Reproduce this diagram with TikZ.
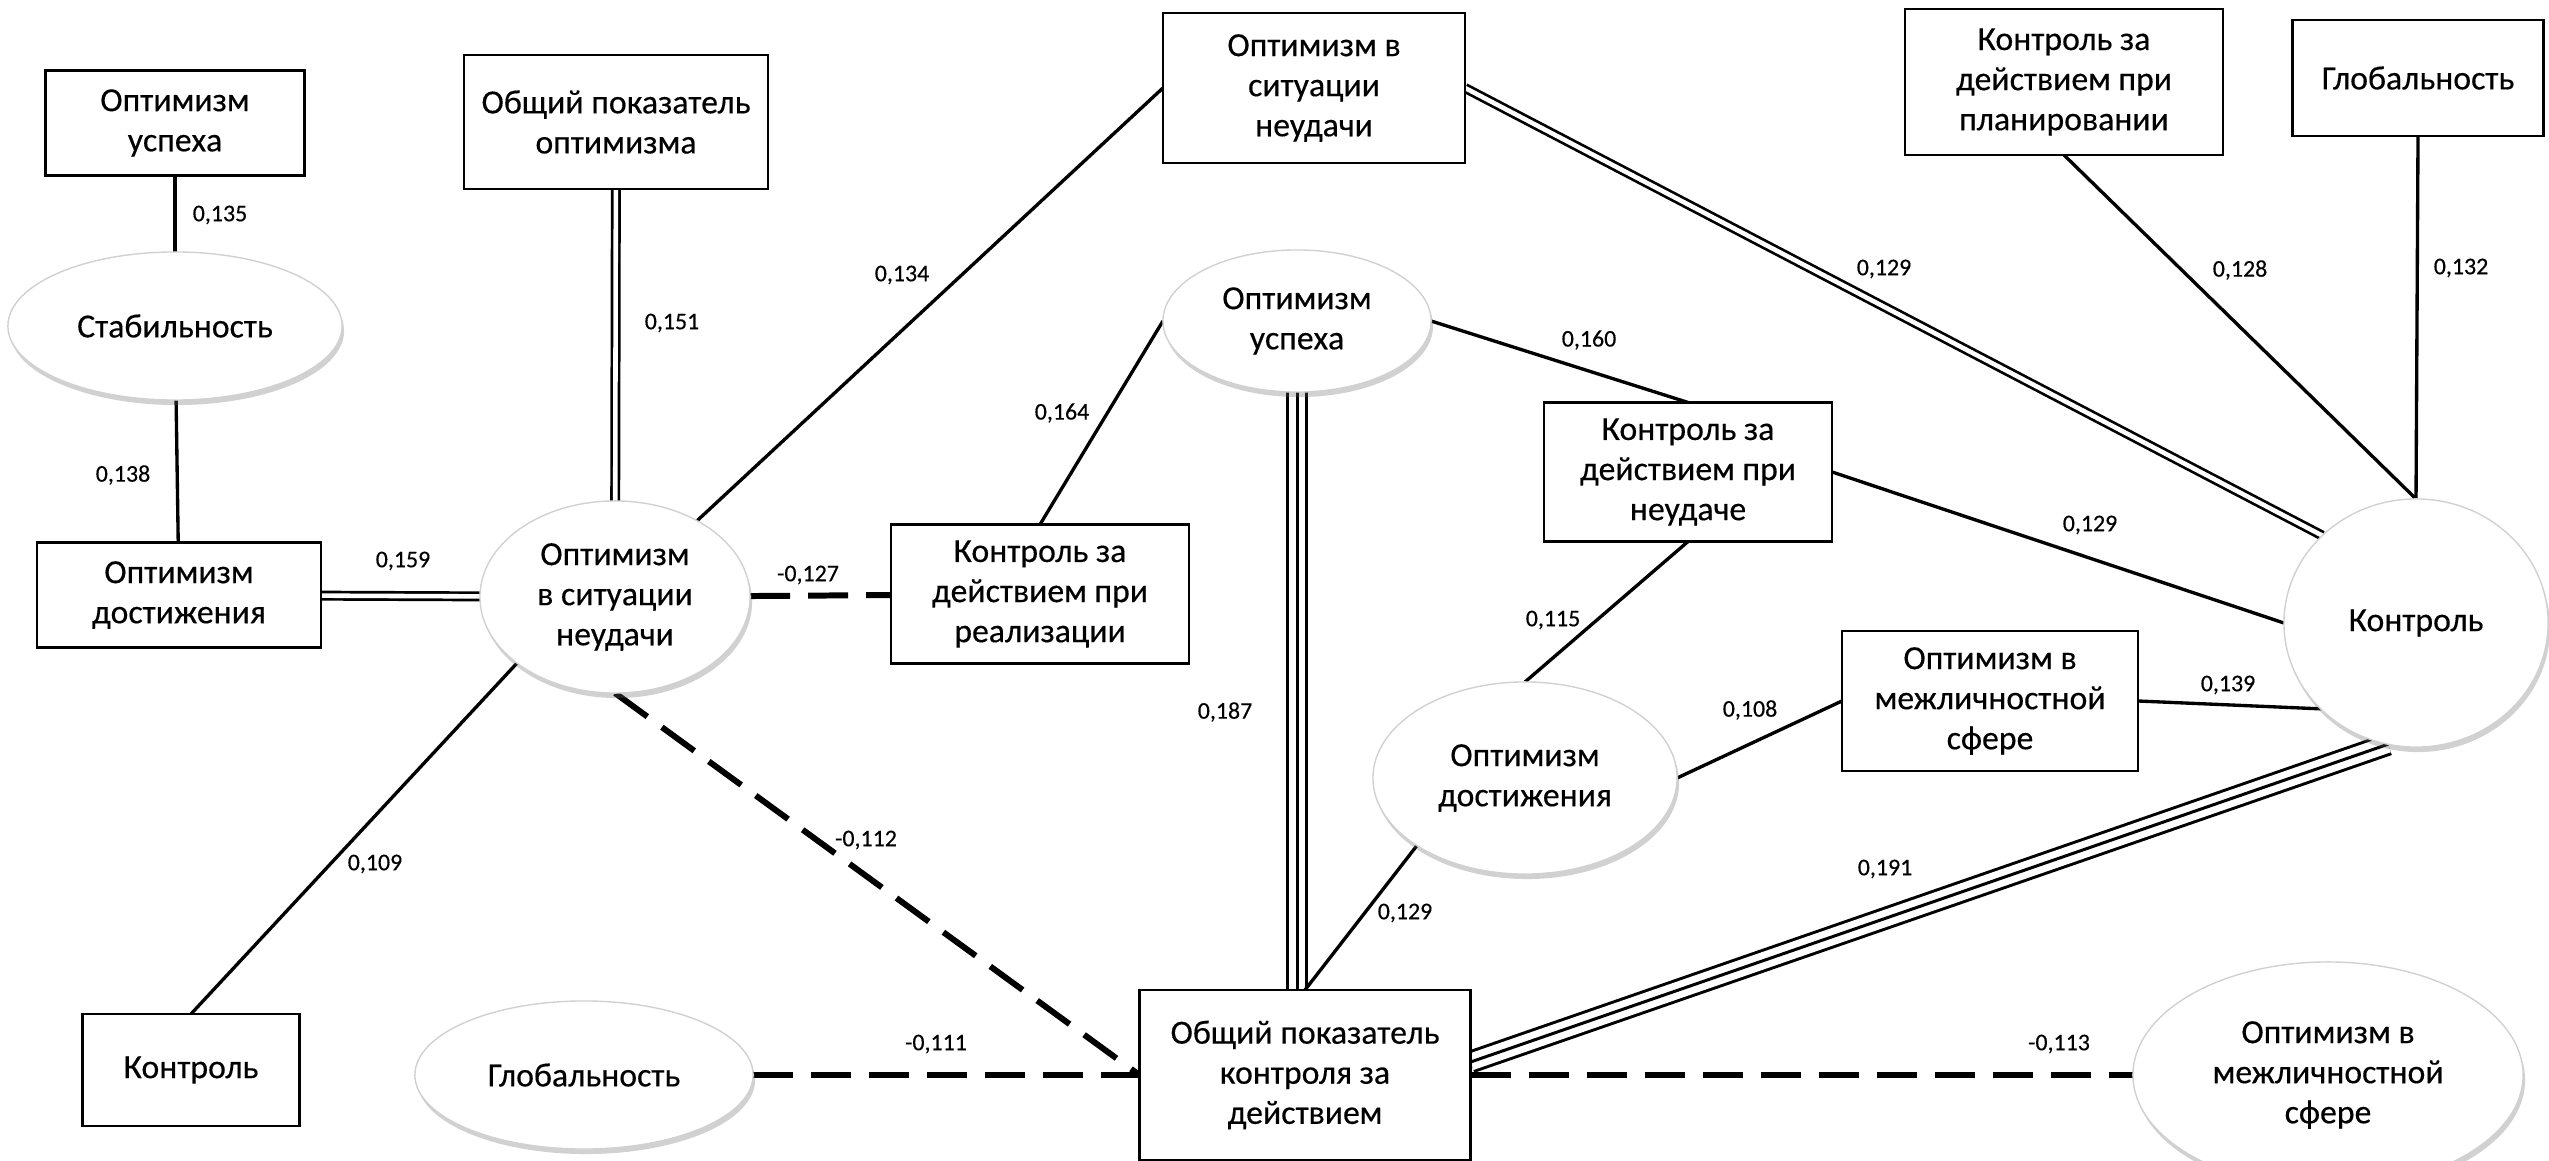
\documentclass[tikz,border=0pt]{standalone}
\usepackage{fontspec}
\setmainfont{Carlito}[FakeBold=0.35]
\usetikzlibrary{shapes.geometric,shadows,backgrounds,calc}
\newcommand{\mynodefont}{\fontsize{9.6}{11.4}\selectfont}
\newcommand{\mylblfont}{\fontsize{6.8}{8}\selectfont}
\begin{document}
\begin{tikzpicture}[x=0.01cm,y=-0.01cm,
  rbox/.style={draw, line width=0.75pt, rectangle, align=center, inner sep=0pt, outer sep=0pt, fill=white, font=\mynodefont},
  ovl/.style={ellipse, draw=black!18, line width=0.4pt, fill=white, align=center, inner sep=0pt, outer sep=0pt,
    drop shadow={shadow xshift=0.02cm, shadow yshift=-0.05cm, opacity=0.3, fill=black!60}, font=\mynodefont},
  lbl/.style={font=\mylblfont, inner sep=0pt},
  sgl/.style={line width=0.95pt},
  dbl/.style={line width=0.77pt, double, double distance=1.3pt},
  dsh/.style={line width=1.7pt, dash pattern=on 0.4cm off 0.18cm},
  trip/.style={line width=6.5pt, postaction={draw=white, line width=4.8pt}, postaction={draw=black, line width=0.85pt}}
]
\useasboundingbox (0,0) rectangle (2549,1161);
\clip (0,0) rectangle (2549,1161);

% nodes
\node[rbox, minimum width=2.59cm, minimum height=1.05cm] (b_ou) at (175,123) {Оптимизм\\успеха};
\node[ovl, minimum width=3.34cm, minimum height=1.48cm] (e_stab) at (175,326) {Стабильность};
\node[rbox, minimum width=2.84cm, minimum height=1.05cm] (b_od) at (179,595) {Оптимизм\\достижения};
\node[ovl, minimum width=2.70cm, minimum height=1.92cm] (e_osn) at (615,597) {Оптимизм\\в ситуации\\неудачи};
\node[rbox, minimum width=3.04cm, minimum height=1.34cm] (b_opo) at (616,122) {Общий показатель\\оптимизма};
\node[rbox, minimum width=2.17cm, minimum height=1.12cm] (b_k) at (191,1070) {Контроль};
\node[ovl, minimum width=3.38cm, minimum height=1.48cm] (e_glob) at (584,1075) {Глобальность};
\node[rbox, minimum width=2.98cm, minimum height=1.39cm] (b_kdr) at (1040,594) {Контроль за\\действием при\\реализации};
\node[rbox, minimum width=3.02cm, minimum height=1.50cm] (b_osn2) at (1314,88) {Оптимизм в\\ситуации\\неудачи};
\node[ovl, minimum width=2.68cm, minimum height=1.42cm] (e_ou2) at (1297,321) {Оптимизм\\успеха};
\node[rbox, minimum width=3.31cm, minimum height=1.70cm] (b_opkd) at (1305,1075) {Общий показатель\\контроля за\\действием};
\node[ovl, minimum width=3.04cm, minimum height=1.92cm] (e_od2) at (1525,778) {Оптимизм\\достижения};
\node[rbox, minimum width=2.88cm, minimum height=1.39cm] (b_kdn) at (1688,472) {Контроль за\\действием при\\неудаче};
\node[rbox, minimum width=3.18cm, minimum height=1.46cm] (b_kkp) at (2064,82) {Контроль за\\действием при\\планировании};
\node[rbox, minimum width=2.51cm, minimum height=1.16cm] (b_glob) at (2418,78) {Глобальность};
\node[ovl, minimum width=2.64cm, minimum height=2.48cm] (e_k) at (2416,623) {Контроль};
\node[rbox, minimum width=2.96cm, minimum height=1.40cm] (b_oms) at (1990,701) {Оптимизм в\\межличностной\\сфере};
\node[ovl, minimum width=3.90cm, minimum height=2.26cm] (e_oms2) at (2328,1075) {Оптимизм в\\межличностной\\сфере};

% connectors
\begin{pgfonlayer}{background}
\draw[sgl] (b_ou) -- (e_stab);
\draw[sgl] (e_stab) -- (b_od);
\draw[dbl] (b_od) -- (e_osn);
\draw[dbl] (b_opo) -- (e_osn);
\draw[sgl] (e_osn) -- (b_osn2.west);
\draw[sgl] (e_osn.214) -- (b_k.north);
\draw[dsh] (e_osn) -- (b_kdr);
\draw[dsh] (e_osn.south) -- (b_opkd.west);
\draw[dsh] (e_glob) -- (b_opkd.west);
\draw[sgl] (b_kdr.north) -- (e_ou2.west);
\draw[trip] (e_ou2.south) -- (e_ou2.south |- b_opkd.north);
\draw[sgl] (e_ou2.east) -- (b_kdn.north);
\draw[dbl] (b_osn2.east) -- (e_k.137);
\draw[sgl] (b_kdn.east) -- (e_k.west);
\draw[sgl] (b_kkp.south) -- (e_k.north);
\draw[sgl] (b_glob.south) -- (e_k.north);
\draw[sgl] (e_od2.east) -- (b_oms.west);
\draw[sgl] (b_oms.east) -- (e_k.222);
\draw[sgl] (b_kdn.south) -- (e_od2.north);
\draw[sgl] (e_od2.212) -- (b_opkd.north);
\draw[trip] ($(b_opkd.east)+(0,-13)$) -- (e_k.257);
\draw[dsh] (b_opkd.east) -- (e_oms2.west);
\end{pgfonlayer}

% labels
\node[lbl] (l1) at (220,215) {0,135};
\node[lbl] (l2) at (123,475) {0,138};
\node[lbl] (l3) at (403,561) {0,159};
\node[lbl] (l4) at (672,323) {0,151};
\node[lbl] (l5) at (902,275) {0,134};
\node[lbl] (l6) at (375,864) {0,109};
\node[lbl] (l7) at (808,575) {-0,127};
\node[lbl] (l8) at (866,840) {-0,112};
\node[lbl] (l9) at (936,1044) {-0,111};
\node[lbl] (l10) at (1062,413) {0,164};
\node[lbl] (l11) at (1225,712) {0,187};
\node[lbl] (l12) at (1589,340) {0,160};
\node[lbl] (l13) at (1884,269) {0,129};
\node[lbl] (l14) at (2090,525) {0,129};
\node[lbl] (l15) at (2240,270) {0,128};
\node[lbl] (l16) at (2461,268) {0,132};
\node[lbl] (l17) at (1750,710) {0,108};
\node[lbl] (l18) at (2228,685) {0,139};
\node[lbl] (l19) at (1553,620) {0,115};
\node[lbl] (l20) at (1405,913) {0,129};
\node[lbl] (l21) at (1885,869) {0,191};
\node[lbl] (l22) at (2059,1044) {-0,113};
\end{tikzpicture}
\end{document}
